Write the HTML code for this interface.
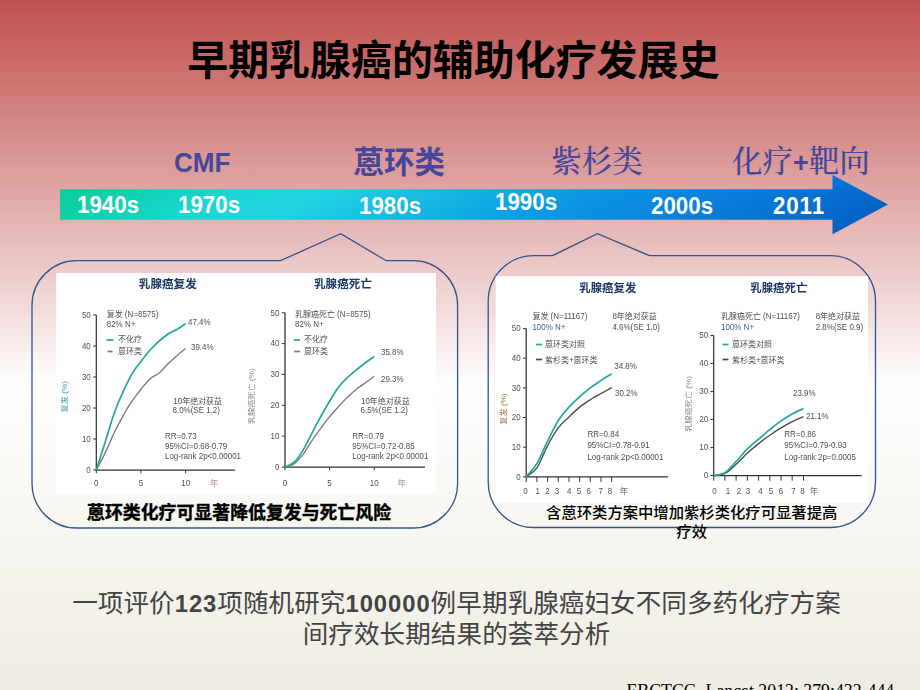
<!DOCTYPE html>
<html lang="zh-CN">
<head>
<meta charset="utf-8">
<title>早期乳腺癌的辅助化疗发展史</title>
<style>
html,body{margin:0;padding:0;}
html{background:#eeece1;}
body{width:920px;height:690px;overflow:hidden;position:relative;
  font-family:"Liberation Sans","Noto Sans CJK SC",sans-serif;}
#bg{position:absolute;left:0;top:0;width:920px;height:690px;
  background:linear-gradient(to bottom,#c0504d 0%,#ffffff 56%,#eeece1 100%);}
.abs{position:absolute;white-space:nowrap;line-height:1;}
#title{left:0;width:920px;top:40.7px;text-align:center;font-size:40.95px;font-weight:bold;color:#000;
  font-family:"Liberation Sans","Noto Sans CJK SC",sans-serif;left:-6.7px;}
.lab{font-size:30.5px;color:#44479a;}
.lab.b{font-weight:bold;font-family:"Liberation Sans","Noto Sans CJK SC",sans-serif;}
.lab.s{font-family:"Liberation Serif","Noto Serif CJK SC",serif;font-weight:500;}
.yr{font-size:23px;font-weight:bold;color:#fff;transform:scaleX(0.972);transform-origin:0 0;}
#shapes{position:absolute;left:0;top:0;}
.cap1{font-size:17.9px;font-weight:700;-webkit-text-stroke:0.4px #000;color:#000;font-family:"Liberation Sans","Noto Sans CJK SC",sans-serif;}
.cap2{font-size:15.33px;font-weight:500;color:#000;text-align:center;line-height:19px;white-space:normal;}
#foot{left:0;width:913px;letter-spacing:0.09px;top:588px;text-align:center;font-size:25.56px;line-height:30.3px;color:#444444;white-space:normal;}
#foot b{font-size:23.8px;letter-spacing:0.95px;}
#ref{font-family:"Liberation Serif",serif;font-size:17.8px;color:#000;left:626.5px;top:682.6px;}
</style>
</head>
<body>
<div id="bg"></div>
<svg id="shapes" width="920" height="690" viewBox="0 0 920 690">
  <defs>
    <filter id="soft" x="0" y="0" width="920" height="690" filterUnits="userSpaceOnUse"><feGaussianBlur stdDeviation="0.4"/></filter>
    <linearGradient id="arr" gradientUnits="userSpaceOnUse" x1="60" y1="204.5" x2="255.3" y2="556">
      <stop offset="0" stop-color="#0ccfa0"/>
      <stop offset="0.085" stop-color="#10d3b8"/>
      <stop offset="0.17" stop-color="#1ad5d2"/>
      <stop offset="0.28" stop-color="#22d4e3"/>
      <stop offset="0.41" stop-color="#18bde2"/>
      <stop offset="0.495" stop-color="#12aee2"/>
      <stop offset="0.60" stop-color="#0c98e2"/>
      <stop offset="0.75" stop-color="#0a84de"/>
      <stop offset="0.89" stop-color="#0672d4"/>
      <stop offset="1" stop-color="#0462c4"/>
    </linearGradient>
  </defs>
  <path d="M60 189.3 H832.5 V175 L888 204.5 L832.5 234.3 V219.7 H60 Z" fill="url(#arr)"/>
  <!-- left callout -->
  <path d="M76.6 260.7 H280.5 L340.7 233.7 L386.2 260.7 H413 A44.6 44.6 0 0 1 457.6 305.3 V483.4 A44.6 44.6 0 0 1 413 528 H76.6 A44.6 44.6 0 0 1 32 483.4 V305.3 A44.6 44.6 0 0 1 76.6 260.7 Z" fill="none" stroke="#2f558c" stroke-width="1.3"/>
  <!-- right callout -->
  <path d="M533.5 255.7 H552.5 L597.5 233.7 L649.5 255.7 H830.2 A45.3 45.3 0 0 1 875.5 301 V482.2 A45.3 45.3 0 0 1 830.2 527.5 H533.5 A45.3 45.3 0 0 1 488.2 482.2 V301 A45.3 45.3 0 0 1 533.5 255.7 Z" fill="none" stroke="#2f558c" stroke-width="1.3"/>
  <rect x="56.2" y="273" width="379.8" height="220.8" fill="#ffffff"/>
  <rect x="495.7" y="276.2" width="372.3" height="226.3" fill="#ffffff"/>
<!--CHARTS-->
<g id="charts" filter="url(#soft)" font-family="'Liberation Sans','Noto Sans CJK SC',sans-serif">
<text x="167.8" y="288.3" text-anchor="middle" font-size="11.6" font-weight="bold" fill="#1f3864">乳腺癌复发</text>
<path d="M96.3 315 V470 H235" fill="none" stroke="#333333" stroke-width="1.25"/>
<text transform="translate(90.8 472.8) scale(0.94 1)" text-anchor="end" font-size="8.5" fill="#505050">0</text>
<text transform="translate(90.8 441.8) scale(0.94 1)" text-anchor="end" font-size="8.5" fill="#505050">10</text>
<text transform="translate(90.8 410.8) scale(0.94 1)" text-anchor="end" font-size="8.5" fill="#505050">20</text>
<text transform="translate(90.8 379.8) scale(0.94 1)" text-anchor="end" font-size="8.5" fill="#505050">30</text>
<text transform="translate(90.8 348.8) scale(0.94 1)" text-anchor="end" font-size="8.5" fill="#505050">40</text>
<text transform="translate(90.8 317.8) scale(0.94 1)" text-anchor="end" font-size="8.5" fill="#505050">50</text>
<path d="M93.1 470 h3.2M93.1 439 h3.2M93.1 408 h3.2M93.1 377 h3.2M93.1 346 h3.2M93.1 315 h3.2M96.3 470 v3.2M140.9 470 v3.2M185.6 470 v3.2" stroke="#333333" stroke-width="1" fill="none"/>
<text transform="translate(96.3 486) scale(0.94 1)" text-anchor="middle" font-size="8.5" fill="#505050">0</text>
<text transform="translate(141 486) scale(0.94 1)" text-anchor="middle" font-size="8.5" fill="#505050">5</text>
<text transform="translate(185.7 486) scale(0.94 1)" text-anchor="middle" font-size="8.5" fill="#505050">10</text>
<text x="214.3" y="486" text-anchor="middle" font-size="8.5" fill="#b8938a">年</text>
<path d="M96.3 470 C97.8 467.2 102.3 459.1 105.2 452.9 C108.2 446.8 111.2 439 114.2 432.8 C117.1 426.6 120.1 421 123.1 415.8 C126.1 410.5 129 405.6 132 401.2 C135 396.8 138 393.1 140.9 389.4 C143.9 385.7 146.9 381.5 149.9 378.9 C152.9 376.2 155.8 375.8 158.8 373.3 C161.8 370.8 164.8 366.9 167.7 364 C170.7 361.1 173.7 358.5 176.7 355.9 C179.6 353.3 184.1 349.7 185.6 348.5" fill="none" stroke="#7a7a7a" stroke-width="1.35" stroke-linejoin="round"/>
<path d="M96.3 470 C97.8 465.4 102.3 451.6 105.2 442.1 C108.2 432.6 111.2 421.6 114.2 413.3 C117.1 404.9 120.1 398.4 123.1 391.9 C126.1 385.3 129 379 132 373.9 C135 368.8 138 365.4 140.9 361.5 C143.9 357.6 146.9 353.7 149.9 350.3 C152.9 347 155.8 344 158.8 341.4 C161.8 338.7 164.8 336.2 167.7 334.2 C170.7 332.3 173.7 331.3 176.7 329.6 C179.6 327.8 184.1 324.7 185.6 323.7" fill="none" stroke="#1fa99b" stroke-width="1.7" stroke-linejoin="round"/>
<text transform="translate(106.7 317.4) scale(0.94 1)" font-size="8.5" fill="#505050">复发 (N=8575)</text>
<text transform="translate(106.7 327.1) scale(0.94 1)" font-size="8.5" fill="#505050">82% N+</text>
<text transform="translate(118 342.4) scale(0.94 1)" font-size="8.5" fill="#505050">不化疗</text>
<text transform="translate(118 354.1) scale(0.94 1)" font-size="8.5" fill="#505050">蒽环类</text>
<text transform="translate(188 325.4) scale(0.94 1)" font-size="8.5" fill="#505050">47.4%</text>
<text transform="translate(191 349.8) scale(0.94 1)" font-size="8.5" fill="#505050">39.4%</text>
<text transform="translate(173.3 403.8) scale(0.94 1)" font-size="8.5" fill="#505050">10年绝对获益</text>
<text transform="translate(172.5 413.4) scale(0.94 1)" font-size="8.5" fill="#505050">8.0%(SE 1.2)</text>
<text transform="translate(165 439.1) scale(0.94 1)" font-size="8.5" fill="#505050">RR=0.73</text>
<text transform="translate(165 449.1) scale(0.94 1)" font-size="8.5" fill="#505050">95%CI=0.68-0.79</text>
<text transform="translate(165 459.1) scale(0.94 1)" font-size="8.5" fill="#505050">Log-rank 2p&lt;0.00001</text>
<path d="M106.5 340 h7" stroke="#1fa99b" stroke-width="1.7"/>
<path d="M107.5 351.5 h5" stroke="#7a7a7a" stroke-width="1.7"/>
<text transform="translate(67 396.7) rotate(-90) scale(1 0.84)" text-anchor="middle" font-size="8.2" fill="#3a8fb0">复发 (%)</text>
<text x="343" y="288.3" text-anchor="middle" font-size="11.6" font-weight="bold" fill="#1f3864">乳腺癌死亡</text>
<path d="M285 312.8 V467 H425" fill="none" stroke="#333333" stroke-width="1.25"/>
<text transform="translate(279.5 469.8) scale(0.94 1)" text-anchor="end" font-size="8.5" fill="#505050">0</text>
<text transform="translate(279.5 439) scale(0.94 1)" text-anchor="end" font-size="8.5" fill="#505050">10</text>
<text transform="translate(279.5 408.1) scale(0.94 1)" text-anchor="end" font-size="8.5" fill="#505050">20</text>
<text transform="translate(279.5 377.3) scale(0.94 1)" text-anchor="end" font-size="8.5" fill="#505050">30</text>
<text transform="translate(279.5 346.4) scale(0.94 1)" text-anchor="end" font-size="8.5" fill="#505050">40</text>
<text transform="translate(279.5 315.6) scale(0.94 1)" text-anchor="end" font-size="8.5" fill="#505050">50</text>
<path d="M281.8 467 h3.2M281.8 436.1 h3.2M281.8 405.3 h3.2M281.8 374.4 h3.2M281.8 343.6 h3.2M281.8 312.8 h3.2M285 467 v3.2M329.6 467 v3.2M374.3 467 v3.2" stroke="#333333" stroke-width="1" fill="none"/>
<text transform="translate(285 486) scale(0.94 1)" text-anchor="middle" font-size="8.5" fill="#505050">0</text>
<text transform="translate(329.5 486) scale(0.94 1)" text-anchor="middle" font-size="8.5" fill="#505050">5</text>
<text transform="translate(374.3 486) scale(0.94 1)" text-anchor="middle" font-size="8.5" fill="#505050">10</text>
<text x="401.7" y="486" text-anchor="middle" font-size="8.5" fill="#b8938a">年</text>
<path d="M285 467 C286.5 466.5 291 466 293.9 463.9 C296.9 461.9 299.9 458.5 302.9 454.7 C305.8 450.8 308.8 445.1 311.8 440.8 C314.8 436.4 317.7 432.4 320.7 428.4 C323.7 424.4 326.7 420.4 329.6 416.7 C332.6 413.1 335.6 409.8 338.6 406.5 C341.6 403.3 344.5 400.2 347.5 397.3 C350.5 394.4 353.5 391.7 356.4 389.3 C359.4 386.8 362.4 384.9 365.4 382.8 C368.3 380.6 372.8 377.4 374.3 376.3" fill="none" stroke="#7a7a7a" stroke-width="1.35" stroke-linejoin="round"/>
<path d="M285 467 C286.5 466.2 291 465.1 293.9 462.4 C296.9 459.6 299.9 455.4 302.9 450.6 C305.8 445.9 308.8 439.3 311.8 433.7 C314.8 428 317.7 422.1 320.7 416.7 C323.7 411.3 326.7 406.2 329.6 401.3 C332.6 396.4 335.6 391.1 338.6 387.1 C341.6 383.1 344.5 380.4 347.5 377.5 C350.5 374.7 353.5 372.3 356.4 369.8 C359.4 367.4 362.4 364.9 365.4 362.7 C368.3 360.5 372.8 357.6 374.3 356.6" fill="none" stroke="#1fa99b" stroke-width="1.7" stroke-linejoin="round"/>
<text transform="translate(295 317.4) scale(0.94 1)" font-size="8.5" fill="#505050">乳腺癌死亡 (N=8575)</text>
<text transform="translate(295 326.6) scale(0.94 1)" font-size="8.5" fill="#505050">82% N+</text>
<text transform="translate(304 342.4) scale(0.94 1)" font-size="8.5" fill="#505050">不化疗</text>
<text transform="translate(304 354.1) scale(0.94 1)" font-size="8.5" fill="#505050">蒽环类</text>
<text transform="translate(381 354.8) scale(0.94 1)" font-size="8.5" fill="#505050">35.8%</text>
<text transform="translate(381 382.1) scale(0.94 1)" font-size="8.5" fill="#505050">29.3%</text>
<text transform="translate(361 403.8) scale(0.94 1)" font-size="8.5" fill="#505050">10年绝对获益</text>
<text transform="translate(360.5 413.4) scale(0.94 1)" font-size="8.5" fill="#505050">6.5%(SE 1.2)</text>
<text transform="translate(352.3 439.1) scale(0.94 1)" font-size="8.5" fill="#505050">RR=0.79</text>
<text transform="translate(352.3 449.1) scale(0.94 1)" font-size="8.5" fill="#505050">95%CI=0.72-0.85</text>
<text transform="translate(352.3 459.1) scale(0.94 1)" font-size="8.5" fill="#505050">Log-rank 2p&lt;0.00001</text>
<path d="M294 340 h6" stroke="#1fa99b" stroke-width="1.7"/>
<path d="M294 351.5 h6" stroke="#7a7a7a" stroke-width="1.7"/>
<text transform="translate(254.2 396.2) rotate(-90) scale(1 0.84)" text-anchor="middle" font-size="8.2" fill="#828282">乳腺癌死亡 (%)</text>
<text x="607.8" y="291.6" text-anchor="middle" font-size="11.4" font-weight="bold" fill="#1f3864">乳腺癌复发</text>
<path d="M526.2 328.6 V476.8 H668" fill="none" stroke="#333333" stroke-width="1.25"/>
<text transform="translate(520.7 479.6) scale(0.94 1)" text-anchor="end" font-size="8.5" fill="#505050">0</text>
<text transform="translate(520.7 450) scale(0.94 1)" text-anchor="end" font-size="8.5" fill="#505050">10</text>
<text transform="translate(520.7 420.3) scale(0.94 1)" text-anchor="end" font-size="8.5" fill="#505050">20</text>
<text transform="translate(520.7 390.7) scale(0.94 1)" text-anchor="end" font-size="8.5" fill="#505050">30</text>
<text transform="translate(520.7 361) scale(0.94 1)" text-anchor="end" font-size="8.5" fill="#505050">40</text>
<text transform="translate(520.7 331.4) scale(0.94 1)" text-anchor="end" font-size="8.5" fill="#505050">50</text>
<path d="M523 476.8 h3.2M523 447.2 h3.2M523 417.5 h3.2M523 387.9 h3.2M523 358.2 h3.2M523 328.6 h3.2M526.2 476.8 v5.2M536.9 476.8 v5.2M547.6 476.8 v5.2M558.3 476.8 v5.2M569 476.8 v5.2M579.7 476.8 v5.2M590.3 476.8 v5.2M601 476.8 v5.2M611.7 476.8 v5.2" stroke="#333333" stroke-width="1" fill="none"/>
<text transform="translate(525.5 494.3) scale(0.94 1)" text-anchor="middle" font-size="8.5" fill="#505050">0</text>
<text transform="translate(537.7 494.3) scale(0.94 1)" text-anchor="middle" font-size="8.5" fill="#505050">1</text>
<text transform="translate(547.4 494.3) scale(0.94 1)" text-anchor="middle" font-size="8.5" fill="#505050">2</text>
<text transform="translate(557 494.3) scale(0.94 1)" text-anchor="middle" font-size="8.5" fill="#505050">3</text>
<text transform="translate(569.3 494.3) scale(0.94 1)" text-anchor="middle" font-size="8.5" fill="#505050">4</text>
<text transform="translate(579 494.3) scale(0.94 1)" text-anchor="middle" font-size="8.5" fill="#505050">5</text>
<text transform="translate(588.8 494.3) scale(0.94 1)" text-anchor="middle" font-size="8.5" fill="#505050">6</text>
<text transform="translate(600.6 494.3) scale(0.94 1)" text-anchor="middle" font-size="8.5" fill="#505050">7</text>
<text transform="translate(610 494.3) scale(0.94 1)" text-anchor="middle" font-size="8.5" fill="#505050">8</text>
<text x="624" y="494.3" text-anchor="middle" font-size="8.5" fill="#6e6e6e">年</text>
<path d="M526.2 476.8 C528 475.3 533.3 473.1 536.9 467.9 C540.5 462.7 544 452.3 547.6 445.7 C551.1 439 554.7 432.7 558.3 427.9 C561.8 423.1 565.4 420.4 569 416.9 C572.5 413.4 576.1 410 579.7 407.1 C583.2 404.3 586.8 402 590.3 399.7 C593.9 397.4 597.5 395.5 601 393.5 C604.6 391.5 609.9 388.5 611.7 387.6" fill="none" stroke="#4a4a4a" stroke-width="1.35" stroke-linejoin="round"/>
<path d="M526.2 476.8 C528 474.6 533.3 469.4 536.9 463.5 C540.5 457.5 544 448.4 547.6 441.2 C551.1 434.1 554.7 426.1 558.3 420.5 C561.8 414.8 565.4 411.1 569 407.1 C572.5 403.2 576.1 400 579.7 396.7 C583.2 393.5 586.8 390.6 590.3 387.9 C593.9 385.1 597.5 382.8 601 380.4 C604.6 378.1 609.9 375 611.7 373.9" fill="none" stroke="#1fa99b" stroke-width="1.7" stroke-linejoin="round"/>
<text transform="translate(532.4 319.1) scale(0.94 1)" font-size="8.5" fill="#505050">复发 (N=11167)</text>
<text transform="translate(532.4 329.8) scale(0.94 1)" font-size="8.5" fill="#3f5c8c">100% N+</text>
<text transform="translate(545 347.1) scale(0.94 1)" font-size="8.5" fill="#505050">蒽环类对照</text>
<text transform="translate(545 362.5) scale(0.94 1)" font-size="8.5" fill="#505050">紫杉类+蒽环类</text>
<text transform="translate(614.2 368.8) scale(0.94 1)" font-size="8.5" fill="#505050">34.8%</text>
<text transform="translate(615 395.9) scale(0.94 1)" font-size="8.5" fill="#505050">30.2%</text>
<text transform="translate(612.4 319.1) scale(0.94 1)" font-size="8.5" fill="#505050">8年绝对获益</text>
<text transform="translate(612.4 329.8) scale(0.94 1)" font-size="8.5" fill="#505050">4.6%(SE 1.0)</text>
<text transform="translate(587.4 437.3) scale(0.94 1)" font-size="8.5" fill="#505050">RR=0.84</text>
<text transform="translate(587.4 448.1) scale(0.94 1)" font-size="8.5" fill="#505050">95%CI=0.78-0.91</text>
<text transform="translate(587.4 459.9) scale(0.94 1)" font-size="8.5" fill="#505050">Log-rank 2p&lt;0.00001</text>
<path d="M536 344.5 h6" stroke="#1fa99b" stroke-width="1.7"/>
<path d="M536 359.5 h6" stroke="#4a4a4a" stroke-width="1.7"/>
<text transform="translate(506 409) rotate(-90) scale(1 0.84)" text-anchor="middle" font-size="8.2" fill="#a0664a">复发 (%)</text>
<text x="778.8" y="291.6" text-anchor="middle" font-size="11.4" font-weight="bold" fill="#1f3864">乳腺癌死亡</text>
<path d="M713.7 335.5 V475.5 H861.6" fill="none" stroke="#333333" stroke-width="1.25"/>
<text transform="translate(708.2 478.3) scale(0.94 1)" text-anchor="end" font-size="8.5" fill="#505050">0</text>
<text transform="translate(708.2 450.3) scale(0.94 1)" text-anchor="end" font-size="8.5" fill="#505050">10</text>
<text transform="translate(708.2 422.3) scale(0.94 1)" text-anchor="end" font-size="8.5" fill="#505050">20</text>
<text transform="translate(708.2 394.3) scale(0.94 1)" text-anchor="end" font-size="8.5" fill="#505050">30</text>
<text transform="translate(708.2 366.3) scale(0.94 1)" text-anchor="end" font-size="8.5" fill="#505050">40</text>
<text transform="translate(708.2 338.3) scale(0.94 1)" text-anchor="end" font-size="8.5" fill="#505050">50</text>
<path d="M710.5 475.5 h3.2M710.5 447.5 h3.2M710.5 419.5 h3.2M710.5 391.5 h3.2M710.5 363.5 h3.2M710.5 335.5 h3.2M713.7 475.5 v5.2M724.9 475.5 v5.2M736.1 475.5 v5.2M747.4 475.5 v5.2M758.6 475.5 v5.2M769.8 475.5 v5.2M781 475.5 v5.2M792.2 475.5 v5.2M803.5 475.5 v5.2" stroke="#333333" stroke-width="1" fill="none"/>
<text transform="translate(714.5 494.3) scale(0.94 1)" text-anchor="middle" font-size="8.5" fill="#505050">0</text>
<text transform="translate(728 494.3) scale(0.94 1)" text-anchor="middle" font-size="8.5" fill="#505050">1</text>
<text transform="translate(739 494.3) scale(0.94 1)" text-anchor="middle" font-size="8.5" fill="#505050">2</text>
<text transform="translate(748 494.3) scale(0.94 1)" text-anchor="middle" font-size="8.5" fill="#505050">3</text>
<text transform="translate(760.5 494.3) scale(0.94 1)" text-anchor="middle" font-size="8.5" fill="#505050">4</text>
<text transform="translate(771 494.3) scale(0.94 1)" text-anchor="middle" font-size="8.5" fill="#505050">5</text>
<text transform="translate(781 494.3) scale(0.94 1)" text-anchor="middle" font-size="8.5" fill="#505050">6</text>
<text transform="translate(793.5 494.3) scale(0.94 1)" text-anchor="middle" font-size="8.5" fill="#505050">7</text>
<text transform="translate(802.5 494.3) scale(0.94 1)" text-anchor="middle" font-size="8.5" fill="#505050">8</text>
<text x="814" y="494.3" text-anchor="middle" font-size="8.5" fill="#6e6e6e">年</text>
<path d="M713.7 475.5 C715.6 475.2 721.2 475.4 724.9 473.5 C728.7 471.7 732.4 467.7 736.1 464.3 C739.9 460.9 743.6 456.6 747.4 453.1 C751.1 449.6 754.8 446.6 758.6 443.6 C762.3 440.6 766.1 437.8 769.8 435.2 C773.5 432.6 777.3 430.1 781 427.9 C784.8 425.7 788.5 423.6 792.2 421.7 C796 419.9 801.6 417.5 803.5 416.7" fill="none" stroke="#4a4a4a" stroke-width="1.35" stroke-linejoin="round"/>
<path d="M713.7 475.5 C715.6 475 721.2 475 724.9 472.7 C728.7 470.4 732.4 465.5 736.1 461.5 C739.9 457.5 743.6 452.6 747.4 448.9 C751.1 445.2 754.8 442.3 758.6 439.1 C762.3 435.9 766.1 432.6 769.8 429.6 C773.5 426.5 777.3 423.5 781 420.9 C784.8 418.3 788.5 416 792.2 413.9 C796 411.8 801.6 409.5 803.5 408.6" fill="none" stroke="#1fa99b" stroke-width="1.7" stroke-linejoin="round"/>
<text transform="translate(721 319.1) scale(0.94 1)" font-size="8.5" fill="#505050">乳腺癌死亡 (N=11167)</text>
<text transform="translate(721 329.8) scale(0.94 1)" font-size="8.5" fill="#3f5c8c">100% N+</text>
<text transform="translate(732 347.1) scale(0.94 1)" font-size="8.5" fill="#505050">蒽环类对照</text>
<text transform="translate(732 362.5) scale(0.94 1)" font-size="8.5" fill="#505050">紫杉类+蒽环类</text>
<text transform="translate(793 395.9) scale(0.94 1)" font-size="8.5" fill="#505050">23.9%</text>
<text transform="translate(806 418.5) scale(0.94 1)" font-size="8.5" fill="#505050">21.1%</text>
<text transform="translate(815.7 319.1) scale(0.94 1)" font-size="8.5" fill="#505050">8年绝对获益</text>
<text transform="translate(815.7 329.8) scale(0.94 1)" font-size="8.5" fill="#505050">2.8%(SE 0.9)</text>
<text transform="translate(784.3 437.3) scale(0.94 1)" font-size="8.5" fill="#505050">RR=0.86</text>
<text transform="translate(784.3 448.1) scale(0.94 1)" font-size="8.5" fill="#505050">95%CI=0.79-0.93</text>
<text transform="translate(784.3 459.9) scale(0.94 1)" font-size="8.5" fill="#505050">Log-rank 2p=0.0005</text>
<path d="M722.5 344.5 h6" stroke="#1fa99b" stroke-width="1.7"/>
<path d="M722.5 359.5 h6" stroke="#4a4a4a" stroke-width="1.7"/>
<text transform="translate(690.5 404) rotate(-90) scale(1 0.84)" text-anchor="middle" font-size="8.2" fill="#848484">乳腺癌死亡 (%)</text>
</g>
<!--/CHARTS-->
</svg>
<div id="title" class="abs">早期乳腺癌的辅助化疗发展史</div>
<div class="abs lab b" style="left:173.7px;top:147.5px;font-size:28.4px;transform:scaleX(0.918);transform-origin:0 0;">CMF</div>
<div class="abs lab b" style="left:353.5px;top:147px;">蒽环类</div>
<div class="abs lab s" style="left:551.3px;top:147px;">紫杉类</div>
<div class="abs lab s" style="left:732px;top:147px;">化疗<b style="font-family:'Liberation Sans',sans-serif;font-size:27px;">+</b>靶向</div>
<div class="abs yr" style="left:77.4px;top:194px;">1940s</div>
<div class="abs yr" style="left:178.2px;top:194px;">1970s</div>
<div class="abs yr" style="left:359.2px;top:194.7px;">1980s</div>
<div class="abs yr" style="left:494.9px;top:191.3px;">1990s</div>
<div class="abs yr" style="left:650.5px;top:194.7px;">2000s</div>
<div class="abs yr" style="left:773.4px;top:194.7px;letter-spacing:0.9px;">2011</div>
<div class="abs cap1" style="left:87px;top:505px;">蒽环类化疗可显著降低复发与死亡风险</div>
<div class="abs cap2" style="left:542.7px;width:298px;top:503px;">含蒽环类方案中增加紫杉类化疗可显著提高疗效</div>
<div id="foot" class="abs">一项评价<b>123</b>项随机研究<b>100000</b>例早期乳腺癌妇女不同多药化疗方案<br>间疗效长期结果的荟萃分析</div>
<div id="ref" class="abs">EBCTCG. Lancet 2012; 379:432-444</div>
</body>
</html>
